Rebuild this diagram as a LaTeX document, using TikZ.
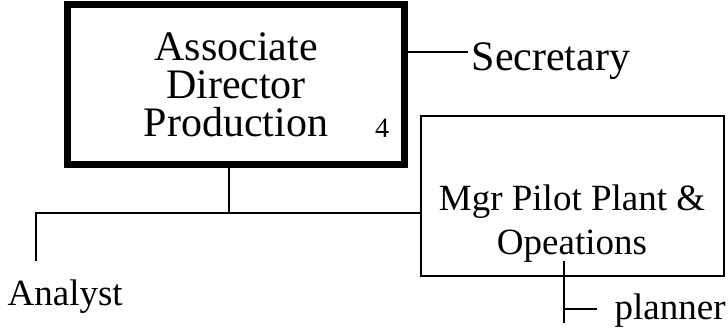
\documentclass[tikz,border=0pt]{standalone}
\usepackage{fontspec}
\setmainfont{Liberation Serif}
\usetikzlibrary{positioning,calc}
\tikzset{
	chart/.style={x=1pt,y=-1pt,line width=1.3pt},
	headbox/.style={draw,line width=7pt,minimum width=337pt,minimum height=160pt,
		inner sep=0pt,align=center,font=\fontsize{42}{38}\selectfont},
	unitbox/.style={draw,minimum width=303pt,minimum height=160pt,inner sep=0pt},
	staff/.style={inner sep=0pt,align=center,font=\fontsize{37}{44}\selectfont},
	bigstaff/.style={inner sep=0pt,font=\fontsize{42}{42}\selectfont},
	grade/.style={inner sep=0pt,font=\fontsize{28}{28}\selectfont}
}

\begin{document}
\begin{tikzpicture}[chart]
	\useasboundingbox (0,0) rectangle (728,332);
	
	\node[headbox] (ad) at (236,84.5) {Associate\\Director\\Production};
	\node[grade, anchor=base] (num) at (382,137) {4};
	\node[bigstaff, anchor=base west] (sec) at (471,70) {Secretary};
	
	\node[unitbox] (mgr) at (572.5,196) {};
	\node[staff] (mgrtext) at (572,223.5) {Mgr Pilot Plant \&\\Opeations};
	
	\node[staff, anchor=base west] (an) at (7,305) {Analyst};
	\node[staff, anchor=base west] (pl) at (614,319) {planner};
	
	\coordinate (secjoin) at (468,52);
	\coordinate (bus) at (229,213);
	\coordinate (antop) at (36,261);
	\coordinate (pltop) at (564,261);
	\coordinate (pltick) at (564,309);
	\coordinate (plbot) at (564,323);
	
	\draw (ad.east |- secjoin) -- (secjoin);
	\draw (bus |- ad.south) -- (bus);
	\draw (antop) -- (antop |- bus) -- (mgr.west |- bus);
	\draw (pltop) -- (plbot);
	\draw[shorten >=17pt] (pltick) -- (pltick -| pl.west);
\end{tikzpicture}
\end{document}
